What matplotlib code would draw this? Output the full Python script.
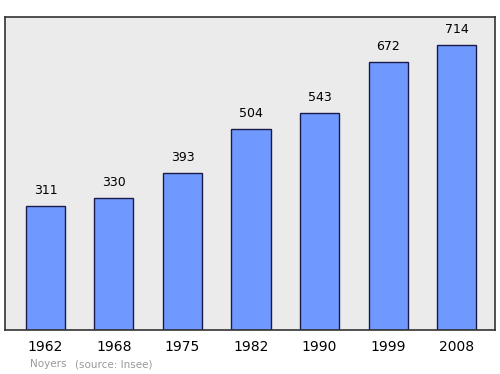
import matplotlib.pyplot as plt

years = ['1962', '1968', '1975', '1982', '1990', '1999', '2008']
population = [311, 330, 393, 504, 543, 672, 714]

fig = plt.figure(figsize=(5, 3.74), dpi=100)
ax = fig.add_axes([0.01, 0.1176, 0.98, 0.837])
ax.set_facecolor('#ebebeb')

x = range(len(years))
ax.bar(x, population, width=0.57, color='#7099ff', edgecolor='#1a1a4a', linewidth=1)

for i, v in zip(x, population):
    ax.annotate(str(v), (i, v), xytext=(0, 6.5), textcoords='offset points',
                ha='center', va='bottom', fontsize=9)

ax.set_xlim(-0.59, 6.56)
ax.set_ylim(0, 784)
ax.set_yticks([])
ax.set_xticks(list(x))
ax.set_xticklabels(years, fontsize=10)
ax.tick_params(axis='x', length=0, pad=7.5)
for s in ax.spines.values():
    s.set_color('#333333')
    s.set_linewidth(1.2)

fig.text(0.06, 0.018, 'Noyers', color='#999999', fontsize=7.5)
fig.text(0.15, 0.018, '(source: Insee)', color='#999999', fontsize=7.5)

fig.savefig('out.png', dpi=100)
